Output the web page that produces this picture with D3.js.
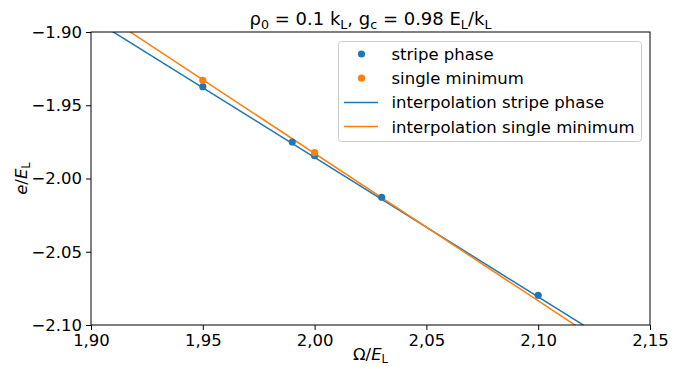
<!DOCTYPE html>
<html>
<head>
<meta charset="utf-8">
<script src="https://cdn.jsdelivr.net/npm/d3@7"></script>
<style>
body { margin: 0; background: #fff; }
text { font-family: "DejaVu Sans", sans-serif; fill: #000; }
</style>
</head>
<body>
<svg id="chart" width="681" height="369"></svg>
<script>
// DATA
var stripeX = [1.95, 1.99, 2.00, 2.03, 2.10];
var stripeY = [-1.9373, -1.9751, -1.9844, -2.0128, -2.0797];
var singleX = [1.95, 2.00];
var singleY = [-1.9330, -1.9824];
// interpolation lines, ends read at the axis borders
var fitStripeX = [1.90, 2.15];
var fitStripeY = [-1.8905, -2.1284];
var fitSingleX = [1.90, 2.15];
var fitSingleY = [-1.8823, -2.1338];
var xTicks = [1.90, 1.95, 2.00, 2.05, 2.10, 2.15];
var yTicks = [-1.90, -1.95, -2.00, -2.05, -2.10];

var blue = "#1f77b4", orange = "#ff7f0e";

var svg = d3.select("#chart");
var mLeft = 91, mRight = 650, mTop = 32, mBottom = 325;

var x = d3.scaleLinear().domain([1.90, 2.15]).range([mLeft, mRight]);
var y = d3.scaleLinear().domain([-2.10, -1.90]).range([mBottom, mTop]);

function fmt(v) { return d3.format(".2f")(v).replace("-", "\u2212").replace(".", ","); }
function fmtY(v) { return d3.format(".2f")(v).replace("-", "\u2212"); }

svg.append("clipPath").attr("id", "clip")
    .append("rect").attr("x", mLeft).attr("y", mTop)
    .attr("width", mRight - mLeft).attr("height", mBottom - mTop);

var plot = svg.append("g").attr("clip-path", "url(#clip)");

function zip(a, b) { return a.map(function(v, i) { return [v, b[i]]; }); }

var line = d3.line().x(function(d) { return x(d[0]); }).y(function(d) { return y(d[1]); });

plot.append("path").datum(zip(fitStripeX, fitStripeY))
    .attr("d", line).attr("fill", "none").attr("stroke", blue).attr("stroke-width", 1.5);
plot.append("path").datum(zip(fitSingleX, fitSingleY))
    .attr("d", line).attr("fill", "none").attr("stroke", orange).attr("stroke-width", 1.5);

plot.selectAll(".sp").data(zip(stripeX, stripeY)).enter().append("circle")
    .attr("cx", function(d) { return x(d[0]); })
    .attr("cy", function(d) { return y(d[1]); })
    .attr("r", 3.6).attr("fill", blue);
plot.selectAll(".sm").data(zip(singleX, singleY)).enter().append("circle")
    .attr("cx", function(d) { return x(d[0]); })
    .attr("cy", function(d) { return y(d[1]); })
    .attr("r", 3.6).attr("fill", orange);

// AXES
var xAxis = d3.axisBottom(x).tickValues(xTicks).tickFormat(fmt).tickSize(5).tickPadding(4);
var yAxis = d3.axisLeft(y).tickValues(yTicks).tickFormat(fmtY).tickSize(5).tickPadding(4);

var gx = svg.append("g").attr("transform", "translate(0," + mBottom + ")").call(xAxis);
var gy = svg.append("g").attr("transform", "translate(" + mLeft + ",0)").call(yAxis);
[gx, gy].forEach(function(g) {
    g.select(".domain").remove();
    g.selectAll("line").attr("stroke", "#000").attr("stroke-width", 1);
    g.selectAll("text").attr("font-size", 16.5).attr("font-family", "DejaVu Sans").attr("fill", "#000");
});

svg.append("rect").attr("x", mLeft).attr("y", mTop)
    .attr("width", mRight - mLeft).attr("height", mBottom - mTop)
    .attr("fill", "none").attr("stroke", "#000").attr("stroke-width", 1);

// LABELS
// parts: [text, style] where style is "" / "i" (italic) / "s" (subscript)
function rich(t, parts, size) {
    var shifted = false;
    parts.forEach(function(p) {
        var ts = t.append("tspan").text(p[0]);
        if (p[1] == "s") {
            ts.attr("font-size", size * 0.7).attr("dy", size * 0.2);
            shifted = true;
        } else {
            if (shifted) ts.attr("dy", -size * 0.2);
            shifted = false;
            if (p[1] == "i") ts.attr("font-style", "italic");
        }
    });
}

var xl = svg.append("text").attr("x", (mLeft + mRight) / 2).attr("y", 360)
    .attr("text-anchor", "middle").attr("font-size", 16.5);
rich(xl, [["\u03a9/", ""], ["E", "i"], ["L", "s"]], 16.5);

var yl = svg.append("text")
    .attr("transform", "translate(27," + ((mTop + mBottom) / 2) + ") rotate(-90)")
    .attr("text-anchor", "middle").attr("font-size", 16.5);
rich(yl, [["e", "i"], ["/", ""], ["E", "i"], ["L", "s"]], 16.5);

var title = svg.append("text").attr("x", (mLeft + mRight) / 2).attr("y", 25)
    .attr("text-anchor", "middle").attr("font-size", 18);
rich(title, [["\u03c1", ""], ["0", "s"], [" = 0.1 k", ""], ["L", "s"], [", g", ""], ["c", "s"],
             [" = 0.98 E", ""], ["L", "s"], ["/k", ""], ["L", "s"]], 18);

// LEGEND
var legend = svg.append("g");
legend.append("rect").attr("x", 338.5).attr("y", 41.5).attr("width", 303).attr("height", 100)
    .attr("rx", 3).attr("fill", "#fff").attr("fill-opacity", 0.8)
    .attr("stroke", "#ccc").attr("stroke-width", 1);
var items = [
    { label: "stripe phase", color: blue, kind: "dot" },
    { label: "single minimum", color: orange, kind: "dot" },
    { label: "interpolation stripe phase", color: blue, kind: "line" },
    { label: "interpolation single minimum", color: orange, kind: "line" }
];
items.forEach(function(it, i) {
    var cy = 54 + i * 24.2;
    if (it.kind == "dot") {
        legend.append("circle").attr("cx", 361.5).attr("cy", cy).attr("r", 3.6).attr("fill", it.color);
    } else {
        legend.append("line").attr("x1", 344).attr("x2", 378).attr("y1", cy).attr("y2", cy)
            .attr("stroke", it.color).attr("stroke-width", 1.5);
    }
    legend.append("text").attr("x", 391.5).attr("y", cy + 6).attr("font-size", 16.5).text(it.label);
});
</script>
</body>
</html>
